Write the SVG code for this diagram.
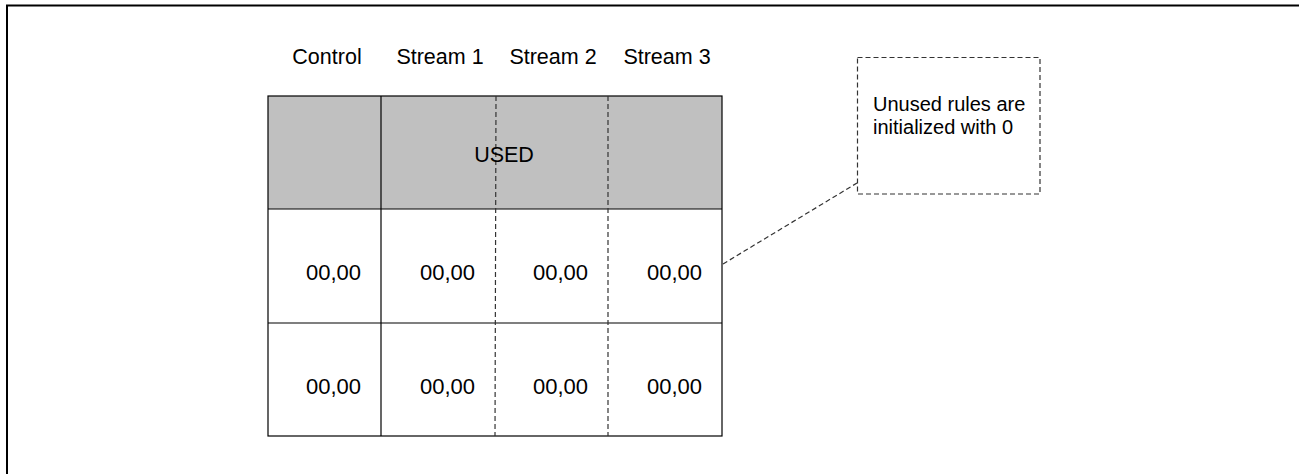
<svg xmlns="http://www.w3.org/2000/svg" width="1299" height="474" viewBox="0 0 1299 474">
<style>
text{font-family:"Liberation Sans",Arial,sans-serif;font-size:21.5px;fill:#000}
.hd{text-anchor:middle}
.v{text-anchor:end;font-size:22px}
.solid{stroke:#000;stroke-width:1.2;fill:none}
.dash{stroke:#333;stroke-width:1.2;fill:none;stroke-dasharray:5 3}
.note{font-size:20px}
</style>
<rect width="1299" height="474" fill="#fff"/>
<path d="M7 474 V5.5 H1299" fill="none" stroke="#000" stroke-width="2"/>
<g id="headers">
<text class="hd" x="327" y="64">Control</text>
<text class="hd" x="440" y="64">Stream 1</text>
<text class="hd" x="553" y="64">Stream 2</text>
<text class="hd" x="667" y="64">Stream 3</text>
</g>
<g id="table">
<rect x="268" y="96" width="454" height="113" fill="#c0c0c0"/>
<rect x="268" y="209" width="454" height="227" fill="#fff"/>
<rect class="solid" x="268" y="96" width="454" height="340"/>
<line class="solid" x1="381" y1="96" x2="381" y2="436"/>
<line class="solid" x1="268" y1="209" x2="722" y2="209"/>
<line class="solid" x1="268" y1="323" x2="722" y2="323"/>
<line class="dash" x1="496" y1="96" x2="495" y2="436"/>
<line class="dash" x1="608" y1="96" x2="608" y2="436"/>
</g>
<g id="used"><text x="504" y="162" text-anchor="middle" font-size="22px">USED</text></g>
<g id="row1">
<text class="v" x="361" y="280">00,00</text>
<text class="v" x="475" y="280">00,00</text>
<text class="v" x="588" y="280">00,00</text>
<text class="v" x="702" y="280">00,00</text>
</g>
<g id="row2">
<text class="v" x="361" y="394">00,00</text>
<text class="v" x="475" y="394">00,00</text>
<text class="v" x="588" y="394">00,00</text>
<text class="v" x="702" y="394">00,00</text>
</g>
<g id="callout">
<rect class="dash" x="857.5" y="57.5" width="182.5" height="136.5" fill="#fff"/>
<text class="note" x="873" y="111">Unused rules are</text>
<text class="note" x="873" y="134">initialized with 0</text>
</g>
<g id="connectors">
<line class="dash" x1="723" y1="264" x2="857" y2="183"/>
</g>
</svg>
